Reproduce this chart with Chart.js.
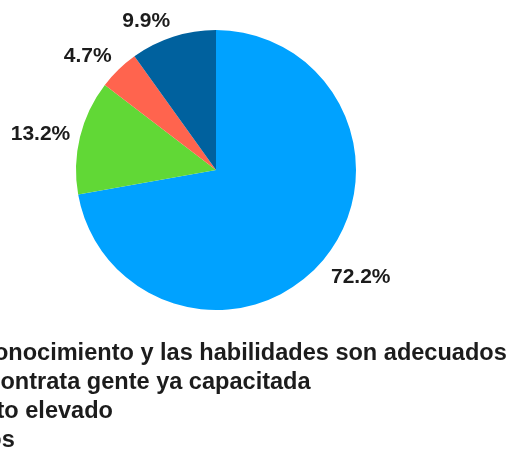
<!DOCTYPE html>
<html>
<head>
<meta charset="utf-8">
<script src="https://cdn.jsdelivr.net/npm/chart.js@4/dist/chart.umd.min.js"></script>
<style>
  html, body { margin: 0; padding: 0; background: #ffffff; }
  #wrap { width: 514px; height: 454px; overflow: hidden; }
</style>
</head>
<body>
<div id="wrap"><canvas id="c" width="514" height="454"></canvas></div>
<script>
const categories = [
  "El conocimiento y las habilidades son adecuados",
  "Se contrata gente ya capacitada",
  "Costo elevado",
  "Otros"
];
const values = [72.2, 13.2, 4.7, 9.9];
const colors = ["#00A2FF", "#61D836", "#FF644E", "#00619E"];

const FONT = '"Liberation Sans", Arial, Helvetica, sans-serif';

const outsideLabels = {
  id: 'outsideLabels',
  afterDatasetsDraw(chart) {
    const ctx = chart.ctx;
    const meta = chart.getDatasetMeta(0);
    const data = chart.data.datasets[0].data;
    const total = data.reduce((a, b) => a + b, 0);
    ctx.save();
    ctx.font = 'bold 21px ' + FONT;
    ctx.fillStyle = '#1c1c1c';
    meta.data.forEach((arc, i) => {
      const p = arc.getProps(['x', 'y', 'startAngle', 'endAngle', 'outerRadius'], true);
      const mid = (p.startAngle + p.endAngle) / 2;
      const r = p.outerRadius + 10;
      const c = Math.cos(mid), s = Math.sin(mid);
      const x = p.x + r * c, y = p.y + r * s;
      ctx.textAlign = c >= 0 ? 'left' : 'right';
      ctx.textBaseline = s > 0.3 ? 'top' : (s < -0.3 ? 'alphabetic' : 'middle');
      const pct = (data[i] / total * 100).toFixed(1) + '%';
      ctx.fillText(pct, x, y);
    });
    ctx.restore();
  }
};

const textLegend = {
  id: 'textLegend',
  afterDraw(chart) {
    const ctx = chart.ctx;
    ctx.save();
    ctx.font = 'bold 23.55px ' + FONT;
    ctx.fillStyle = '#1c1c1c';
    ctx.textAlign = 'left';
    ctx.textBaseline = 'alphabetic';
    const x0 = -48, y0 = 360, dy = 29;
    chart.data.labels.forEach((lab, i) => {
      ctx.fillText(lab, x0, y0 + i * dy);
    });
    ctx.restore();
  }
};

new Chart(document.getElementById('c'), {
  type: 'pie',
  data: {
    labels: categories,
    datasets: [{
      data: values,
      backgroundColor: colors,
      borderWidth: 0
    }]
  },
  options: {
    responsive: false,
    animation: false,
    layout: { padding: { left: 76, top: 30, right: 158, bottom: 144 } },
    plugins: {
      legend: { display: false },
      tooltip: { enabled: false }
    }
  },
  plugins: [outsideLabels, textLegend]
});
</script>
</body>
</html>
